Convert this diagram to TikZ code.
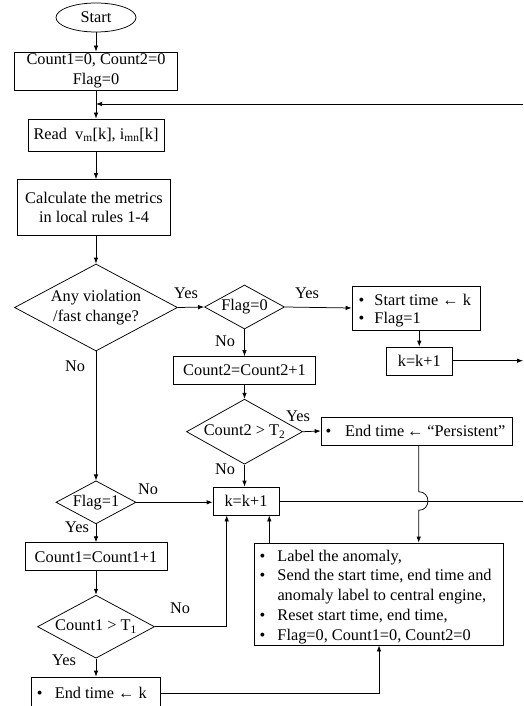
\documentclass[tikz,border=0pt]{standalone}
\usepackage{fontspec}
\setmainfont{Liberation Serif}
\usetikzlibrary{shapes.geometric,arrows.meta}
\newcommand{\mybul}[1]{\makebox[#1][l]{\textbullet}}
\newcommand{\lline}[2]{\makebox[#1][l]{#2}}
\begin{document}
\begin{tikzpicture}[x={(1pt,0pt)}, y={(0pt,-1pt)}, line width=0.75pt,
  >={Latex[length=6pt,width=4.5pt]},
  every node/.style={font=\fontsize{16.3}{19.6}\selectfont},
  box/.style={draw, rectangle, inner sep=0pt, align=center},
  lbox/.style={draw, rectangle, inner ysep=0pt, align=left},
  dia/.style={draw, diamond, inner sep=0pt, align=center},
  lbl/.style={inner sep=0pt}]
\useasboundingbox (0,0) rectangle (523,706);
\clip (0,0) rectangle (523,706);

% main column
\node[draw, ellipse, minimum width=80pt, minimum height=29pt, inner sep=0pt] (start) at (96,17.5) {Start};
\node[box, minimum width=163pt, minimum height=38pt] (init) at (96,71) {Count1=0, Count2=0\\Flag=0};
\node[box, minimum width=136pt, minimum height=32pt] (read) at (96,135) {Read\ \ v\textsubscript{m}[k], i\textsubscript{mn}[k]};
\node[box, minimum width=153pt, minimum height=56pt] (calc) at (94,207.5) {Calculate the metrics\\in local rules 1-4};
\node[dia, minimum width=163pt, minimum height=87pt, aspect=1.87] (viol) at (96,307.5) {Any violation\\/fast change?};
\node[dia, minimum width=80pt, minimum height=43pt, aspect=1.86] (flag1) at (96,502.3) {Flag=1};
\node[box, minimum width=142pt, minimum height=28pt] (count1) at (96,556.7) {Count1=Count1+1};
\node[dia, minimum width=117pt, minimum height=63pt, aspect=1.86] (c1t1) at (96,626.7) {Count1 > T\textsubscript{1}};
\node[lbox, minimum height=32pt, inner xsep=5.3pt] (endk) at (96,693) {\lline{118.4pt}{\mybul{18pt}End time ← k}};

% middle column
\node[dia, minimum width=80pt, minimum height=44pt, aspect=1.82] (flag0) at (244.5,307) {Flag=0};
\node[box, minimum width=142pt, minimum height=28pt] (count2) at (244.5,370.5) {Count2=Count2+1};
\node[dia, minimum width=116pt, minimum height=65pt, aspect=1.78] (c2t2) at (244.5,431.7) {Count2 > T\textsubscript{2}};
\node[box, minimum width=66pt, minimum height=28pt] (k2) at (246,501) {k=k+1};

% right column
\node[lbox, minimum height=44pt, inner xsep=6.5pt, font=\fontsize{16.3}{18.3}\selectfont] (startb) at (416,308) {\lline{115pt}{\rule{0pt}{16pt}\mybul{16pt}Start time ← k}\\\lline{115pt}{\mybul{16pt}Flag=1}};
\node[box, minimum width=66pt, minimum height=28pt] (k1) at (419.3,361) {k=k+1};
\node[lbox, minimum height=28pt, inner xsep=4.5pt] (endp) at (416.7,431) {\lline{182.3pt}{\mybul{19.5pt}End time\,← “Persistent”}};
\node[lbox, minimum height=102pt, inner xsep=5.5pt, font=\fontsize{16.3}{19.8}\selectfont] (labelb) at (378.5,594) {\lline{238pt}{\rule{0pt}{17pt}\mybul{18pt}Label the anomaly,}\\
\lline{238pt}{\mybul{18pt}Send the start time, end time and}\\
\lline{238pt}{\hspace*{18pt}anomaly label to central engine,}\\
\lline{238pt}{\mybul{18pt}Reset start time, end time,}\\
\lline{238pt}{\mybul{18pt}Flag=0, Count1=0, Count2=0}};

% labels
\node[lbl] (yes1) at (186,293) {Yes};
\node[lbl] (yes2) at (307,293) {Yes};
\node[lbl] (no1) at (225,341) {No};
\node[lbl] (yes3) at (298,416) {Yes};
\node[lbl] (no2) at (225,469) {No};
\node[lbl] (no3) at (75,366) {No};
\node[lbl] (no4) at (148,489) {No};
\node[lbl] (yes4) at (77,527) {Yes};
\node[lbl] (no5) at (180,608) {No};
\node[lbl] (yes5) at (64,660) {Yes};

% coordinates
\coordinate (fb) at (523,104);
\coordinate (kout) at (523,360.7);
\coordinate (kout2) at (523,501);
\coordinate (c1up) at (226.7,626.7);
\coordinate (lbup) at (379,693);
\coordinate (lbk) at (269.3,560);
\coordinate (j1) at (418.7,491.7);
\coordinate (j2) at (418.7,510.3);

% connectors
\draw[->] (start) -- (init);
\draw[->] (init) -- (read);
\draw[->] (fb) -- (fb -| init.south);
\draw[->] (read.south) -- (read.south |- calc.north);
\draw[->] (read.south |- calc.south) -- (viol.north);
\draw[->] (viol.east) -- (flag0.west);
\draw[->] (flag0.east) -- (startb.west);
\draw[->] (flag0.south) -- (count2.north);
\draw[->] (count2.south) -- (c2t2.north);
\draw[->] (c2t2.east) -- (endp.west);
\draw[->] (c2t2.south) -- (c2t2.south |- k2.north);
\draw[->] (startb.south -| k1.north) -- (k1.north);
\draw[->] (k1.east |- kout) -- (kout);
\draw[->] (viol.south) -- (flag1.north);
\draw[->] (flag1.east) -- (flag1.east -| k2.west);
\draw[->] (flag1.south) -- (count1.north);
\draw[->] (count1.south) -- (c1t1.north);
\draw[->] (c1t1.east) -- (c1up) -- (c1up |- k2.south);
\draw[->] (c1t1.south) -- (endk.north);
\draw[->] (endk.east |- lbup) -- (lbup) -- (lbup |- labelb.south);
\draw[->] (lbk |- labelb.north) -- (lbk |- k2.south);
\draw (k2.east) -- (kout2);
\draw[->] (j1 |- endp.south) -- (j1) .. controls (431,491.7) and (431,510.3) .. (j2) -- (j2 |- labelb.north);
\end{tikzpicture}
\end{document}
